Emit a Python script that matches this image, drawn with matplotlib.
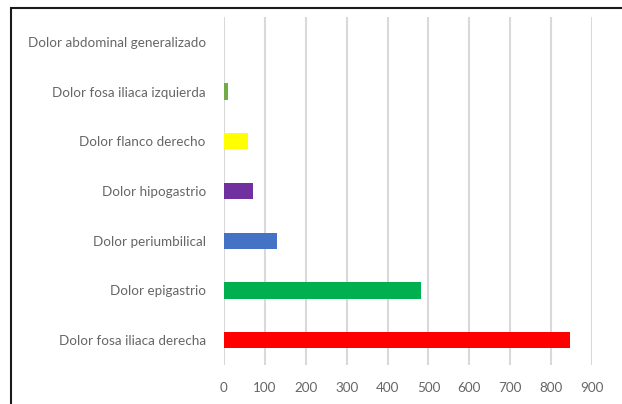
import matplotlib.pyplot as plt
from matplotlib.patches import Rectangle

categorias = ['Dolor fosa iliaca derecha', 'Dolor epigastrio', 'Dolor periumbilical',
              'Dolor hipogastrio', 'Dolor flanco derecho', 'Dolor fosa iliaca izquierda',
              'Dolor abdominal generalizado']
valores = [847, 481, 129, 72, 58, 9, 0]
colores = ['#FF0000', '#00B050', '#4472C4', '#7030A0', '#FFFF00', '#70AD47', '#A5A5A5']
ticks_x = list(range(0, 1000, 100))

plt.rcParams['font.family'] = ['Lato', 'DejaVu Sans']

fig = plt.figure(figsize=(6.22, 4.04), dpi=100)
ax = fig.add_axes([0.360, 0.0965, 0.592, 0.8615])

ax.barh(range(len(categorias)), valores, height=0.33, color=colores, zorder=3)

ax.set_xlim(0, 900)
ax.set_ylim(-0.5, len(categorias) - 0.5)
ax.set_xticks(ticks_x)
ax.set_yticks(range(len(categorias)))
ax.set_yticklabels(categorias)
ax.tick_params(axis='both', length=0, colors='#666666', labelsize=9.7)
ax.tick_params(axis='x', pad=12)
ax.tick_params(axis='y', pad=13)
ax.grid(axis='x', color='#D9D9D9', linewidth=1.5, zorder=0)
for s in ax.spines.values():
    s.set_visible(False)

# marco negro (solo lados superior e izquierdo visibles)
fig.patches.append(Rectangle((11 / 622, -0.1), 1.2, (404 - 7.5) / 404 + 0.1,
                             transform=fig.transFigure, fill=False,
                             edgecolor='#1a1a1a', linewidth=1.5))

fig.savefig('out.png', dpi=100)
